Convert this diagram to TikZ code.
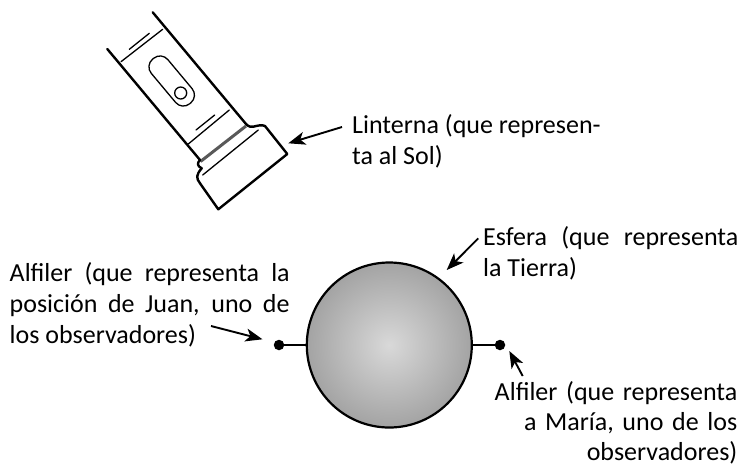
\documentclass[tikz,border=0pt]{standalone}
\usepackage{fontspec}
\setmainfont{Carlito}
\usetikzlibrary{arrows.meta}
\tikzset{
  x=1pt,y=-1pt,
  outlinepart/.style={line width=2.4pt,line join=round,line cap=round},
  thinpart/.style={line width=1.3pt,line cap=round},
  pointer/.style={line width=1.9pt,-{Stealth[length=17pt,width=13pt,inset=4.5pt]}},
  pinhead/.style={circle,fill=black,inner sep=0pt,minimum size=10.5pt},
  caption/.style={font=\fontsize{26}{31}\selectfont,inner sep=0pt},
}
\begin{document}
\begin{tikzpicture}
\useasboundingbox (0,0) rectangle (741,467);

% Flashlight body
\draw[outlinepart] (107.3,49) -- (200,160);
\draw[outlinepart] (152.7,12.3) -- (246,124);
\draw[thinpart] (121,61.7) -- (162.7,29.3);
\draw[thinpart] (129.3,49.3) -- (149.3,33.3);
\draw[thinpart] (188.3,144) -- (229.3,110);
\draw[thinpart] (196,130) -- (214.7,115);
\draw[line width=3pt,black!65] (200.5,161.5) -- (246,126);
\draw[thinpart] (202.7,175) -- (258.3,130);
\node[draw,line width=1.3pt,rounded corners=10pt,minimum width=58pt,minimum height=21.5pt,inner sep=0pt,rotate=-50.1] (slider) at (171.7,81) {};
\node[draw,circle,line width=1.3pt,minimum size=12pt,inner sep=0pt] (button) at (180.7,93) {};
% Flashlight head
\draw[outlinepart] (246,124) .. controls (249,127) and (251,127) .. (253.3,126.7)
  .. controls (258,125.5) and (262,124.5) .. (265,126)
  -- (287.3,154) -- (218.3,209.3) -- (200,183.3)
  .. controls (196,178) and (196,175) .. (201.7,168.3)
  .. controls (197,166) and (197,163) .. (200,160);

% Sphere and pins
\coordinate (juan) at (279,345);
\coordinate (maria) at (500,345);
\node[pinhead] (pinJ) at (juan) {};
\node[pinhead] (pinM) at (maria) {};
\node[circle,draw,line width=2.2pt,minimum size=165pt,inner sep=0pt,
  inner color=black!15,outer color=black!36] (sphere) at (389.3,345) {};
\draw[line width=1.8pt] (pinJ) -- (sphere);
\draw[line width=1.8pt] (sphere) -- (pinM);

% Labels
\node[caption,anchor=base west,text width=253pt,align=justify] (lantern) at (352,133.3)
  {Linterna (que represen-\\ta al Sol)};
\node[caption,anchor=base west,text width=255pt,align=justify] (globe) at (483,245)
  {Esfera (que representa\linebreak la Tierra)};
\node[caption,anchor=base west,text width=280pt,align=justify] (observerJ) at (9.5,281.7)
  {Alfiler (que representa la\linebreak posición de Juan, uno de\linebreak los observadores)};
\node[caption,font=\fontsize{26}{30.4}\selectfont,anchor=base east,text width=260pt,align=right] (observerM) at (737.5,400)
  {Alfiler (que representa\\a María, uno de los\\observadores)};

% Pointers
\coordinate (tipLantern) at (288.3,143.3);
\coordinate (tailLantern) at (342,127);
\coordinate (tipGlobe) at (446.7,270);
\coordinate (tailGlobe) at (478.3,238.3);
\coordinate (tipJ) at (262.5,339.3);
\coordinate (tailJ) at (211,326);
\coordinate (tipM) at (509.3,351);
\coordinate (tailM) at (522.7,376);
\draw[pointer] (tailLantern) -- (tipLantern);
\draw[pointer] (tailGlobe) -- (tipGlobe);
\draw[pointer] (tailJ) -- (tipJ);
\draw[pointer] (tailM) -- (tipM);
\end{tikzpicture}
\end{document}
